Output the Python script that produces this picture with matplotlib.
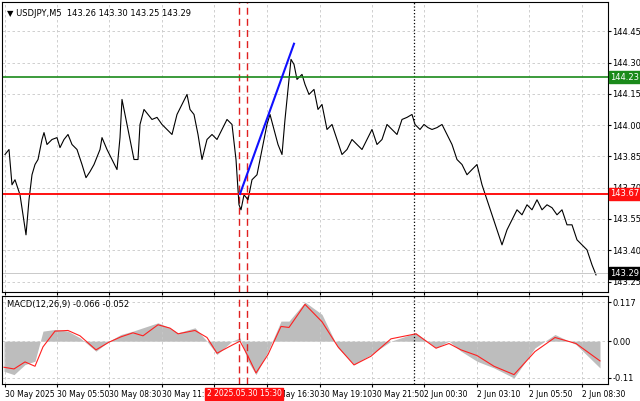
import numpy as np
import matplotlib
matplotlib.use("Agg")
import matplotlib.pyplot as plt

# price path: position along time axis (chart slot units) and close price
px = [3,7,10,13,18,21,24,27,30,33,36,40,42,45,50,55,58,62,66,70,75,80,84,88,92,98,100,105,110,115,118,120,124,128,132,136,138,142,146,150,155,160,165,170,175,180,185,188,192,196,200,205,210,215,220,225,230,234,237,239,242,246,250,255,260,265,268,272,276,280,283,286,289,292,295,300,303,307,312,316,320,325,330,335,340,345,350,355,360,365,370,375,380,385,390,395,400,405,410,413,418,422,426,430,435,440,445,450,455,460,465,470,475,480,485,490,495,500,505,510,515,520,525,530,535,540,545,550,555,560,565,570,575,580,585,590,594]
py = [155,150,185,180,195,215,235,200,175,165,160,140,133,145,140,138,148,140,135,145,150,165,178,172,165,150,138,150,160,170,138,100,120,140,160,160,125,110,115,120,118,125,130,135,115,105,95,110,115,135,160,140,135,140,130,120,125,160,205,210,195,200,180,175,150,125,115,130,145,155,120,90,60,65,80,75,85,95,90,110,105,130,125,140,155,150,140,145,150,140,130,145,140,125,130,135,120,118,115,125,130,125,128,130,128,125,135,145,160,165,175,170,165,185,200,215,230,245,230,220,210,215,205,210,200,210,205,208,215,210,225,225,240,245,250,265,275]
close = [round(144.45 - (y - 32) * 0.15 / 31.2, 3) for y in py]

# MACD
mx = [2,12,23,33,41,53,66,78,94,107,119,131,141,156,168,176,193,205,215,230,238,246,254,266,279,287,303,320,336,352,369,389,414,434,447,459,475,492,512,533,553,574,598]
signal = [-0.078,-0.083,-0.062,-0.075,-0.017,0.03,0.032,0.016,-0.026,-0.003,0.013,0.025,0.016,0.049,0.039,0.022,0.032,0.011,-0.036,-0.012,0.0,-0.045,-0.095,-0.04,0.044,0.041,0.11,0.058,-0.017,-0.071,-0.045,0.007,0.022,-0.021,-0.007,-0.026,-0.043,-0.075,-0.1,-0.031,0.011,-0.007,-0.059]
hist = [-0.09,-0.1,-0.07,-0.06,0.03,0.035,0.03,0.01,-0.03,0.0,0.02,0.03,0.04,0.055,0.04,0.025,0.04,0.0,-0.04,0.0,0.01,-0.06,-0.1,-0.03,0.06,0.06,0.117,0.08,-0.02,-0.07,-0.04,0.0,0.025,-0.02,0.0,-0.03,-0.06,-0.08,-0.11,-0.02,0.02,-0.01,-0.08]

price_ticks = [144.45,144.30,144.15,144.00,143.85,143.70,143.55,143.40,143.25]
macd_ticks = [0.117, 0.0, -0.11]
macd_tick_labels = ["0.117", "0.00", "-0.11"]
time_pos = [3,55,107,160,212,265,318,370,422,475,527,580]
time_labels = ["30 May 2025","30 May 05:50","30 May 08:30","30 May 11:10","30 May 13:50","30 May 16:30",
               "30 May 19:10","30 May 21:50","2 Jun 00:30","2 Jun 03:10","2 Jun 05:50","2 Jun 08:30"]
resistance, support, last = 144.23, 143.67, 143.29
trend_x, trend_y = [238, 292], [143.67, 144.39]
red_v = [237, 245]
black_v = 412

W, H = 640, 401
fig = plt.figure(figsize=(6.4, 4.01), dpi=100)
ax = fig.add_axes([2/W, 1-292/H, 606/W, 290/H])
ax2 = fig.add_axes([2/W, 1-384/H, 606/W, 88/H])

for a in (ax, ax2):
    a.set_xlim(0, 606)
    for s in a.spines.values():
        s.set_color("black"); s.set_linewidth(0.8)
    a.set_xticks(time_pos)
    a.grid(True, color="#c8c8c8", linestyle=(0, (3, 3)), linewidth=0.6)
    a.tick_params(axis="both", labelsize=6, length=2, pad=1)
    a.yaxis.tick_right()
    a.axvline(black_v, color="black", linestyle=":", linewidth=0.9)
    for v in red_v:
        a.axvline(v, color="#e02020", linestyle=(0, (5, 3)), linewidth=1.0)

# main panel
ax.set_ylim(143.20, 144.59)
ax.set_yticks(price_ticks)
ax.set_yticklabels([f"{t:.2f}" for t in price_ticks])
ax.set_xticklabels([])
ax.plot(px, close, color="black", linewidth=0.8)
ax.axhline(resistance, color="#1a8a1a", linewidth=1.2)
ax.axhline(support, color="#ff1010", linewidth=1.4)
ax.axhline(last, color="#c0c0c0", linewidth=0.6)
ax.plot(trend_x, trend_y, color="#1010ff", linewidth=1.5)
for val, col in ((resistance, "#1a8a1a"), (support, "#ff1010"), (last, "black")):
    ax.text(1.003, val, f"{val:.2f}", transform=ax.get_yaxis_transform(), fontsize=6,
            color="white", va="center", ha="left",
            bbox=dict(boxstyle="square,pad=0.15", fc=col, ec=col))
ax.text(0.008, 0.975, "▼ USDJPY,M5  143.26 143.30 143.25 143.29", transform=ax.transAxes,
        fontsize=6, va="top", ha="left")

# MACD panel
ax2.set_ylim(-0.128, 0.135)
ax2.set_yticks(macd_ticks)
ax2.set_yticklabels(macd_tick_labels)
ax2.fill_between(mx, 0, hist, color="#bdbdbd", linewidth=0)
ax2.plot(mx, signal, color="#ff2020", linewidth=0.8)
ax2.set_xticklabels(time_labels, ha="left")
ax2.tick_params(axis="x", labelsize=5.5, pad=2)
ax2.text(0.008, 0.95, "MACD(12,26,9) -0.066 -0.052", transform=ax2.transAxes,
         fontsize=6, va="top", ha="left")
ax2.text(205/606, -0.06, "2 2025.05.30 15:30", transform=ax2.transAxes, fontsize=5.5,
         color="white", va="top", ha="left",
         bbox=dict(boxstyle="square,pad=0.2", fc="#ff1010", ec="#ff1010"))

fig.savefig("out.png", dpi=100)
